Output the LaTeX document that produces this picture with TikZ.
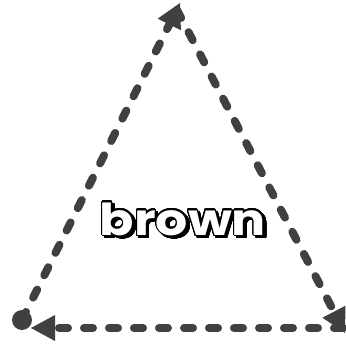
\documentclass[tikz,border=0pt]{standalone}
\usepackage{fontspec}
\setmainfont{Poppins}
\usepackage{contour}
\contournumber{32}
\usetikzlibrary{arrows.meta}
\definecolor{edgegray}{RGB}{64,64,64}
\tikzset{
  edge/.style={draw=edgegray, line width=8pt, line cap=round, dash pattern=on 9pt off 16pt,
    -{Triangle[length=24pt,width=26pt,fill=edgegray,line width=0pt]}},
  lbl/.style={anchor=base, inner sep=0pt, font=\bfseries\fontsize{44}{44}\selectfont}
}
\newcommand{\brownword}{\scalebox{1.15}[1]{brown}}
\begin{document}
\begin{tikzpicture}[x=1pt,y=-1pt]
\useasboundingbox (0,0) rectangle (345,347);
\coordinate (A) at (22,320);
\coordinate (B) at (180,3);
\coordinate (C) at (345,333);
\coordinate (D) at (31,328);
\coordinate (Cs) at (343,328);
\coordinate (Bs) at (177,10);
\fill[edgegray] (A) circle (10pt);
\draw[edge] (A) -- (B);
\draw[edge] (Bs) -- (C);
\draw[edge] (Cs) -- (D);
\contourlength{1.1pt}
\node[lbl] (shadow) at (185.5,237.5) {\color{black}\contour{black}{\brownword}};
\node[lbl] (label) at (183,235) {\color{white}\contour{black}{\brownword}};
\end{tikzpicture}
\end{document}
